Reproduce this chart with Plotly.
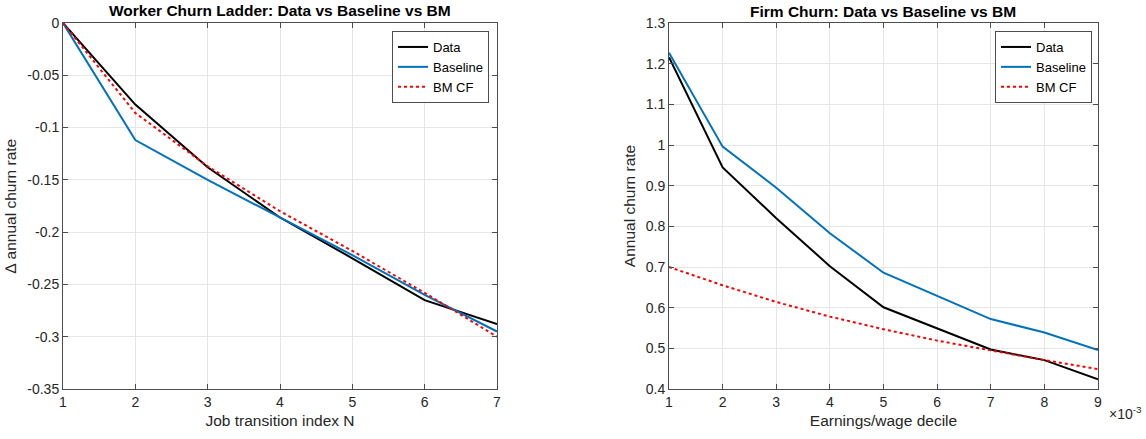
import plotly.graph_objects as go

# Worker churn ladder: change in annual churn rate by job transition index
job_index = [1, 2, 3, 4, 5, 6, 7]
worker_data = [0.0, -0.078, -0.138, -0.186, -0.225, -0.265, -0.288]
worker_baseline = [0.0, -0.112, -0.150, -0.186, -0.222, -0.260, -0.295]
worker_bm = [0.0, -0.086, -0.137, -0.180, -0.218, -0.258, -0.300]

# Firm churn by earnings/wage decile
decile = [1, 2, 3, 4, 5, 6, 7, 8, 9]
firm_data = [1.216, 0.945, 0.820, 0.702, 0.601, 0.549, 0.497, 0.471, 0.424]
firm_baseline = [1.227, 0.996, 0.895, 0.783, 0.686, 0.630, 0.572, 0.539, 0.496]
firm_bm = [0.700, 0.655, 0.614, 0.578, 0.547, 0.519, 0.495, 0.471, 0.449]

left_yticks = [0, -0.05, -0.1, -0.15, -0.2, -0.25, -0.3, -0.35]
right_yticks = [1.3, 1.2, 1.1, 1.0, 0.9, 0.8, 0.7, 0.6, 0.5, 0.4]

W, H = 1146, 439
FONT = "Liberation Sans, Arial, Helvetica, sans-serif"
TXT = "#262626"
BLUE = "#0072BD"
RED = "#FF0000"
FRAME = "#4d4d4d"


def fmt(v):
    return f"{v:g}"


def px_x(p):
    return p / W


def px_y(p):
    return 1 - p / H


fig = go.Figure()

series = [
    ("Data", "black", "solid"),
    ("Baseline", BLUE, "solid"),
    ("BM CF", RED, "dot"),
]

for (name, col, dash), ys in zip(series, [worker_data, worker_baseline, worker_bm]):
    fig.add_trace(go.Scatter(
        x=job_index, y=ys, mode="lines", name=name,
        line=dict(color=col, width=2, dash=dash),
        xaxis="x", yaxis="y", legend="legend",
    ))

for (name, col, dash), ys in zip(series, [firm_data, firm_baseline, firm_bm]):
    fig.add_trace(go.Scatter(
        x=decile, y=ys, mode="lines", name=name,
        line=dict(color=col, width=2, dash=dash),
        xaxis="x2", yaxis="y2", legend="legend2",
    ))

axis_common = dict(
    showline=True, linecolor=FRAME, linewidth=1, mirror="ticks",
    ticks="inside", ticklen=5, tickcolor=FRAME,
    showgrid=True, gridcolor="#e6e6e6", gridwidth=1,
    zeroline=False,
    tickfont=dict(family=FONT, size=14, color=TXT),
    automargin=False,
)

title_font = dict(family=FONT, size=15.5, color=TXT)
ydom = [px_y(389), px_y(23)]

legend_common = dict(
    xanchor="right", yanchor="top",
    bgcolor="white", bordercolor=FRAME, borderwidth=1,
    font=dict(family=FONT, size=13, color="black"),
    tracegroupgap=0,
)

fig.update_layout(
    width=W, height=H,
    margin=dict(l=0, r=0, t=0, b=0),
    paper_bgcolor="white", plot_bgcolor="white",
    font=dict(family=FONT, color=TXT),
    xaxis=dict(
        domain=[px_x(63), px_x(497)], range=[1, 7],
        tickvals=job_index, ticktext=[str(v) for v in job_index],
        title=dict(text="Job transition index N", font=title_font, standoff=6),
        anchor="y", **axis_common,
    ),
    yaxis=dict(
        domain=ydom, range=[-0.35, 0],
        tickvals=left_yticks, ticktext=[fmt(v) for v in left_yticks],
        title=dict(text="∆ annual churn rate", font=title_font, standoff=6),
        anchor="x", **axis_common,
    ),
    xaxis2=dict(
        domain=[px_x(669), px_x(1098)], range=[1, 9],
        tickvals=decile, ticktext=[str(v) for v in decile],
        title=dict(text="Earnings/wage decile", font=title_font, standoff=6),
        anchor="y2", **axis_common,
    ),
    yaxis2=dict(
        domain=ydom, range=[0.4, 1.3],
        tickvals=right_yticks, ticktext=[fmt(v) for v in right_yticks],
        title=dict(text="Annual churn rate", font=title_font, standoff=6),
        anchor="x2", **axis_common,
    ),
    legend=dict(x=px_x(489), y=px_y(31), **legend_common),
    legend2=dict(x=px_x(1092), y=px_y(31), **legend_common),
    showlegend=True,
)

fig.add_annotation(
    text="<b>Worker Churn Ladder: Data vs Baseline vs BM</b>",
    x=px_x(280), y=px_y(11), xref="paper", yref="paper",
    xanchor="center", yanchor="middle", showarrow=False,
    font=dict(family=FONT, size=15.5, color="black"),
)
fig.add_annotation(
    text="<b>Firm Churn: Data vs Baseline vs BM</b>",
    x=px_x(883), y=px_y(12), xref="paper", yref="paper",
    xanchor="center", yanchor="middle", showarrow=False,
    font=dict(family=FONT, size=15.5, color="black"),
)
fig.add_annotation(
    text="×10<sup>-3</sup>",
    x=px_x(1144), y=px_y(413), xref="paper", yref="paper",
    xanchor="right", yanchor="middle", showarrow=False,
    font=dict(family=FONT, size=14, color=TXT),
)

fig.write_html("out.html")
